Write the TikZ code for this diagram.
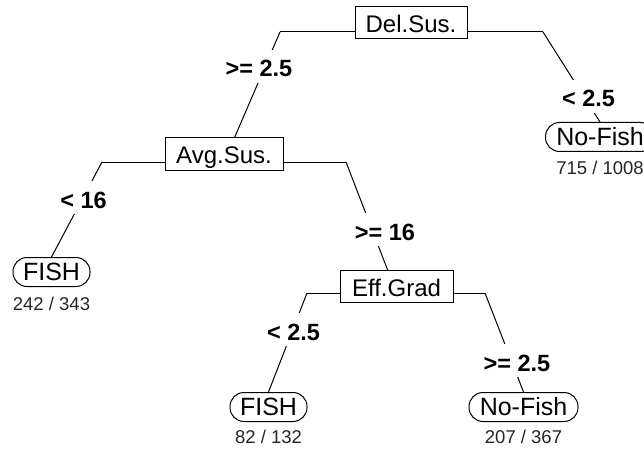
\documentclass[tikz,border=0pt]{standalone}
\usepackage{fontspec}
\setmainfont{Liberation Sans}
\usetikzlibrary{backgrounds}
\begin{document}
\begin{tikzpicture}[x=1pt,y=-1pt,
  splitbox/.style={draw, line width=1pt, fill=white, minimum height=32pt,
    inner sep=0pt, text height=20pt, text depth=0pt,
    font=\fontsize{24}{27}\selectfont},
  leafbox/.style={draw, line width=1pt, fill=white, rounded corners=14pt,
    minimum height=29pt, inner sep=0pt, text height=17.5pt, text depth=0pt,
    font=\fontsize{25}{28}\selectfont},
  cond/.style={fill=white, anchor=base, inner xsep=2pt, inner ysep=2pt,
    text height=25pt, text depth=4pt, font=\bfseries\fontsize{23.5}{26}\selectfont},
  count/.style={anchor=base, text=black!85, font=\fontsize{18.5}{20}\selectfont},
  branch/.style={line width=1pt}
]
\useasboundingbox (0,0) rectangle (644,449);

% split nodes
\node[splitbox, minimum width=112pt] (ds) at (411,23) {Del.Sus.};
\node[splitbox, minimum width=118pt] (as) at (224,154) {Avg.Sus.};
\node[splitbox, minimum width=113pt] (eg) at (396.5,286.5) {Eff.Grad};

% leaves
\node[leafbox, minimum width=109pt] (nf1) at (600,137) {No-Fish};
\node[leafbox, minimum width=77pt] (f1) at (51.5,272) {FISH};
\node[leafbox, minimum width=77pt] (f2) at (268.5,407) {FISH};
\node[leafbox, minimum width=109pt] (nf2) at (523.5,407) {No-Fish};

% class counts
\node[count] (cnf1) at (600,174) {715 / 1008};
\node[count] (cf1) at (51.5,310) {242 / 343};
\node[count] (cf2) at (268.5,443) {82 / 132};
\node[count] (cnf2) at (523.5,443) {207 / 367};

% split points and bar ends
\coordinate (ds-s) at (411,32);
\coordinate (ds-l) at (280,32);
\coordinate (ds-r) at (543,32);
\coordinate (as-s) at (224,162);
\coordinate (as-l) at (102,162);
\coordinate (as-r) at (346,162);
\coordinate (eg-s) at (396.5,293);
\coordinate (eg-l) at (307,293);
\coordinate (eg-r) at (485,293);

% branch labels
\node[cond] (l1) at (259,77) {>= 2.5};
\node[cond] (l2) at (588.5,107) {< 2.5};
\node[cond] (l3) at (83.5,208) {< 16};
\node[cond] (l4) at (385,240) {>= 16};
\node[cond] (l5) at (293.5,340) {< 2.5};
\node[cond] (l6) at (517,371) {>= 2.5};

\begin{scope}[on background layer]
  \fill[white] (0,0) rectangle (644,449);
  \draw[branch] (ds-l) -- (ds-r);
  \draw[branch] (ds-l) -- (as-s);
  \draw[branch] (ds-r) -- (nf1.north);
  \draw[branch] (as-l) -- (as-r);
  \draw[branch] (as-l) -- (f1.north);
  \draw[branch] (as-r) -- (eg-s);
  \draw[branch] (eg-l) -- (eg-r);
  \draw[branch] (eg-l) -- (f2.north);
  \draw[branch] (eg-r) -- (nf2.north);
\end{scope}
\end{tikzpicture}
\end{document}
